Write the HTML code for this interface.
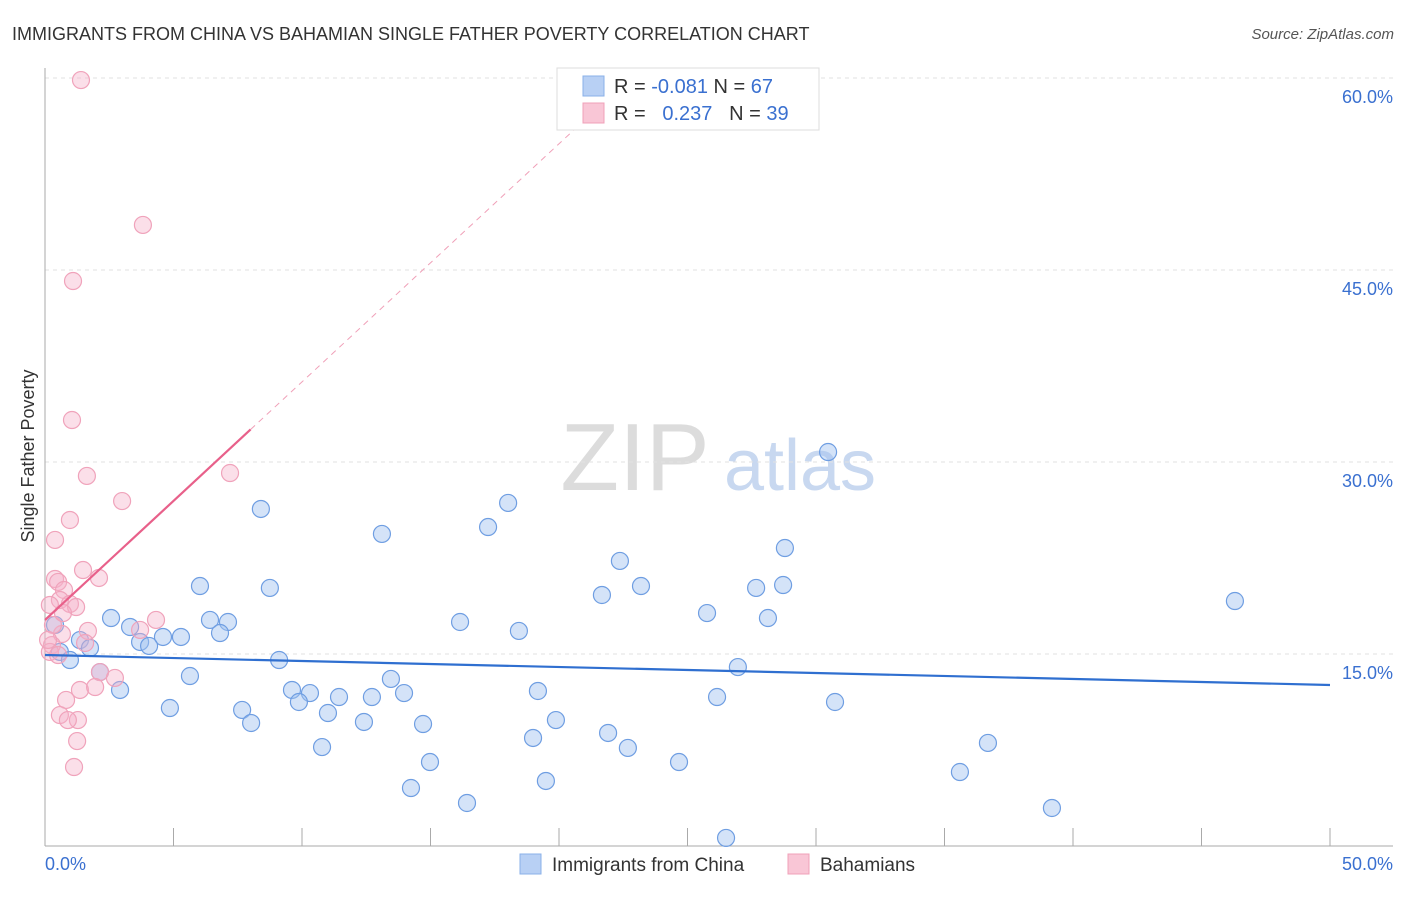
<!DOCTYPE html>
<html><head><meta charset="utf-8"><style>
body{margin:0;background:#fff;font-family:"Liberation Sans",sans-serif}
svg text{font-family:"Liberation Sans",sans-serif}
</style></head><body>
<svg id="chart" width="1406" height="892">
<text x="12" y="40" font-size="18" fill="#333">IMMIGRANTS FROM CHINA VS BAHAMIAN SINGLE FATHER POVERTY CORRELATION CHART</text>
<text x="1394" y="39" font-size="15" fill="#555" text-anchor="end" font-style="italic">Source: ZipAtlas.com</text>
<g>
<text x="635" y="490" font-size="96" fill="#dcdcdc" text-anchor="middle" font-family="Liberation Serif,serif">ZIP</text>
<text x="800" y="490" font-size="72" fill="#c8d8f0" text-anchor="middle">atlas</text>
</g>
<g id="grid"></g><g id="axes"></g><g id="pts"></g><g id="trend"></g>
<text transform="translate(34,456) rotate(-90)" font-size="18" fill="#333" text-anchor="middle">Single Father Poverty</text>
<g>
<rect x="557" y="68" width="262" height="62" fill="#fff" stroke="#ddd"/>
<rect x="583" y="76" width="21" height="20" fill="#b8d0f4" stroke="#8ab0e8"/>
<rect x="583" y="103" width="21" height="20" fill="#f9c6d6" stroke="#f0a0b8"/>
<text x="614" y="93" font-size="20" fill="#333">R = <tspan fill="#3a70d0">-0.081</tspan>   N = <tspan fill="#3a70d0">67</tspan></text>
<text x="614" y="120" font-size="20" fill="#333" xml:space="preserve">R =   <tspan fill="#3a70d0">0.237</tspan>   N = <tspan fill="#3a70d0">39</tspan></text>
</g>
<g>
<rect x="520" y="854" width="21" height="20" fill="#b8d0f4" stroke="#8ab0e8"/>
<text x="552" y="871" font-size="19" fill="#333">Immigrants from China</text>
<rect x="788" y="854" width="21" height="20" fill="#f9c6d6" stroke="#f0a0b8"/>
<text x="820" y="871" font-size="19" fill="#333">Bahamians</text>
</g>
</svg>
<script>
const chinaX=[30.47,8.40,18.02,17.24,13.11,28.79,22.37,6.03,8.75,23.19,27.67,28.72,21.67,46.30,25.76,28.13,2.57,6.42,7.12,16.15,3.31,18.44,6.81,4.59,5.29,3.70,4.05,1.36,1.75,0.39,0.58,0.97,9.11,2.14,26.96,5.64,13.46,2.92,9.61,10.31,9.88,11.44,12.72,13.97,19.18,26.15,30.74,4.86,7.67,11.01,8.02,12.41,14.71,19.88,18.99,21.91,22.68,10.78,36.69,14.98,24.67,35.60,19.49,14.24,16.42,39.18,26.50];
const chinaY=[30.78,26.33,26.80,24.92,24.38,23.28,22.27,20.31,20.16,20.31,20.16,20.39,19.61,19.14,18.20,17.81,17.81,17.66,17.50,17.50,17.11,16.80,16.64,16.33,16.33,15.94,15.63,16.09,15.47,17.27,15.16,14.53,14.53,13.59,13.98,13.28,13.05,12.19,12.19,11.95,11.25,11.64,11.64,11.95,12.11,11.64,11.25,10.78,10.63,10.39,9.61,9.69,9.53,9.84,8.44,8.83,7.66,7.73,8.05,6.56,6.56,5.78,5.08,4.53,3.36,2.97,0.63];
const bahX=[1.40,3.81,1.09,1.05,7.20,1.63,3.00,0.97,0.39,1.48,0.39,0.51,2.10,0.74,0.58,0.97,1.21,0.19,4.32,3.70,1.67,0.66,1.56,0.27,0.19,0.51,2.14,2.72,1.36,1.95,0.82,0.58,1.28,0.89,1.25,1.13,0.31,0.70,0.12];
const bahY=[59.84,48.52,44.14,33.28,29.14,28.91,26.95,25.47,23.91,21.56,20.86,20.63,20.94,20.00,19.22,18.91,18.67,18.83,17.66,16.88,16.80,16.56,15.86,15.70,15.16,14.92,13.59,13.13,12.19,12.42,11.41,10.23,9.84,9.84,8.20,6.17,17.27,18.20,16.10];
const yTicks=[15,30,45,60];
const yTickLabels=["15.0%","30.0%","45.0%","60.0%"];
const xTicks=[0,5,10,15,20,25,30,35,40,45,50];
const xEndLabels=["0.0%","50.0%"];
const chinaTrend=[14.92,12.58];
const bahTrend=[17.66,1.86];
const X=v=>45+v*25.7, Y=v=>846-v*12.8;
const NS="http://www.w3.org/2000/svg";
function mk(p,t,a){const e=document.createElementNS(NS,t);for(const k in a)e.setAttribute(k,a[k]);p.appendChild(e);return e;}
const grid=document.getElementById('grid'),axes=document.getElementById('axes'),pts=document.getElementById('pts'),tr=document.getElementById('trend');
yTicks.forEach((v,i)=>{
 const l=mk(grid,'line',{x1:45,x2:1393,y1:Y(v),y2:Y(v),stroke:'#e2e2e2','stroke-dasharray':'4,4'});
 
 
 const t=mk(axes,'text',{x:1393,y:Y(v)+25,'font-size':18,fill:'#3a70d0','text-anchor':'end'});
 t.textContent=yTickLabels[i];
 
 
});
const ya=mk(axes,'line',{x1:45,x2:45,y1:68,y2:846,stroke:'#aaa'});


const xa=mk(axes,'line',{x1:45,x2:1393,y1:846,y2:846,stroke:'#aaa'});


xTicks.forEach(v=>{const t=mk(axes,'line',{x1:X(v),x2:X(v),y1:828,y2:846,stroke:'#aaa'});
 
 });
[[0,'start',45],[50,'end',1393]].forEach((d,i)=>{const t=mk(axes,'text',{x:d[2],y:870,'font-size':18,fill:'#3a70d0','text-anchor':d[1]});t.textContent=xEndLabels[i];
 
 });
chinaX.forEach((x,i)=>{const c=mk(pts,'circle',{cx:X(x),cy:Y(chinaY[i]),r:8.5,fill:'rgba(160,192,240,0.45)',stroke:'#6f9ee2','stroke-width':1.2});
 
 });
bahX.forEach((x,i)=>{const c=mk(pts,'circle',{cx:X(x),cy:Y(bahY[i]),r:8.5,fill:'rgba(246,176,200,0.4)',stroke:'#f0a3bb','stroke-width':1.2});
 
 });
const bl=mk(tr,'line',{x1:X(0),y1:Y(chinaTrend[0]),x2:X(50),y2:Y(chinaTrend[1]),stroke:'#2f6fd0','stroke-width':2.2});


const pl=mk(tr,'line',{x1:X(0),y1:Y(bahTrend[0]),x2:X(8),y2:Y(bahTrend[0]+8*bahTrend[1]),stroke:'#e8608a','stroke-width':2.2});


const pd=mk(tr,'line',{x1:X(8),y1:Y(bahTrend[0]+8*bahTrend[1]),x2:X(21.2),y2:Y(bahTrend[0]+21.2*bahTrend[1]),stroke:'#f0a0b8','stroke-width':1,'stroke-dasharray':'6,5'});


</script>
</body></html>
